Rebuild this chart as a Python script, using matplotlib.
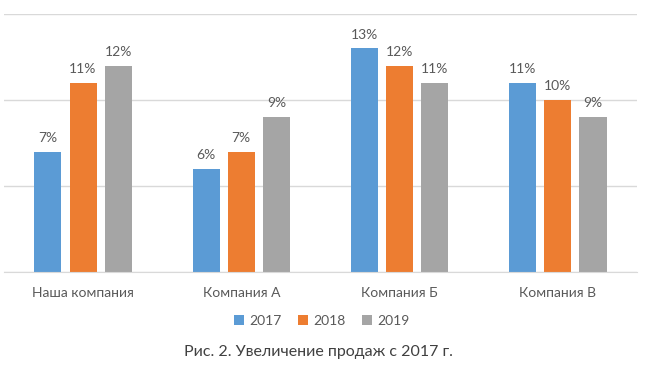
import numpy as np
import matplotlib
matplotlib.use("Agg")
import matplotlib.pyplot as plt
from matplotlib.patches import Patch

plt.rcParams['font.family'] = ['Lato', 'Open Sans', 'DejaVu Sans']

# --- Data ------------------------------------------------------------------
categories = ["Наша компания", "Компания А", "Компания Б", "Компания В"]
years = ["2017", "2018", "2019"]
values_2017 = [7, 6, 13, 11]
values_2018 = [11, 7, 12, 10]
values_2019 = [12, 9, 11, 9]
caption = "Рис. 2. Увеличение продаж с 2017 г."

COLORS = ["#5B9BD5", "#ED7D31", "#A5A5A5"]
TEXT = "#595959"

fig = plt.figure(figsize=(6.5, 3.68), dpi=100)
ax = fig.add_axes([0.006, 0.261, 0.974, 0.701])

x = np.arange(len(categories))
width = 0.171
step = 0.222
series = [values_2017, values_2018, values_2019]

for i, (vals, col) in enumerate(zip(series, COLORS)):
    pos = x + (i - 1) * step
    bars = ax.bar(pos, vals, width=width, color=col, zorder=3)
    for b, v in zip(bars, vals):
        ax.text(b.get_x() + b.get_width() / 2, v + 0.45, f"{v}%",
                ha="center", va="bottom", fontsize=10, color=TEXT)

ax.set_xlim(-0.5, len(categories) - 0.5)
ax.set_ylim(0, 15)
ax.set_yticks([0, 5, 10, 15])
ax.yaxis.grid(True, color="#D9D9D9", linewidth=1, zorder=0)
ax.tick_params(axis="y", left=False, labelleft=False)
ax.tick_params(axis="x", bottom=False, pad=7)
ax.set_xticks(x)
ax.set_xticklabels(categories, fontsize=10, color=TEXT)
for s in ["top", "right", "left"]:
    ax.spines[s].set_visible(False)
ax.spines["bottom"].set_color("#D9D9D9")
ax.spines["bottom"].set_zorder(4)

# legend
handles = [Patch(facecolor=c, label=y) for c, y in zip(COLORS, years)]
fig.legend(handles=handles, loc="center", bbox_to_anchor=(0.495, 0.128),
           ncol=3, frameon=False, fontsize=10, handlelength=0.7,
           handleheight=0.7, handletextpad=0.4, columnspacing=1.2,
           labelcolor=TEXT)

fig.text(0.49, 0.043, caption, ha="center", va="center",
         fontsize=11.5, color="#404040")

fig.savefig("out.png", dpi=100)
